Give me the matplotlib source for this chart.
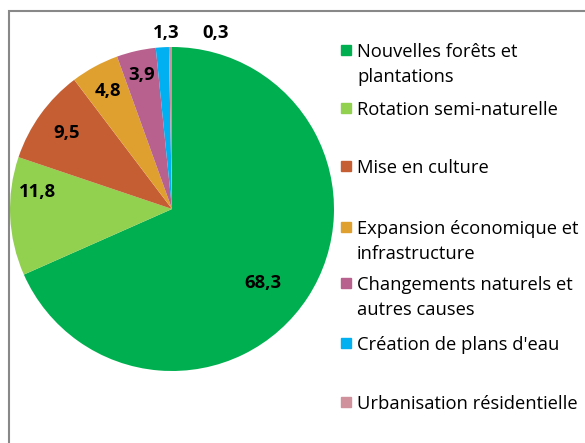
import matplotlib
matplotlib.use("Agg")
import numpy as np
import matplotlib.pyplot as plt
from matplotlib.patches import Rectangle

plt.rcParams["font.family"] = ["Open Sans", "DejaVu Sans"]

categories = [
    "Nouvelles forêts et\nplantations",
    "Rotation semi-naturelle",
    "Mise en culture",
    "Expansion économique et\ninfrastructure",
    "Changements naturels et\nautres causes",
    "Création de plans d'eau",
    "Urbanisation résidentielle",
]
values = [68.3, 11.8, 9.5, 4.8, 3.9, 1.3, 0.3]
colors = ["#00B050", "#92D050", "#C55F33", "#E0A030", "#B8608E", "#00B0F0", "#D0909C"]

# label placement (radius as fraction of pie radius, angle shift in degrees)
label_r = [0.72, 0.84, 0.80, 0.83, 0.85, 1.09, 1.12]
label_dtheta = [-6, -10, 0, 0, 0, -1.5, -14.5]

W, H = 585, 443
fig = plt.figure(figsize=(W / 100, H / 100), dpi=100)

# outer frame
fig.patches.append(Rectangle((8.5 / W, -0.1), 1.2, (H - 11.5) / H + 0.1,
                             transform=fig.transFigure, fill=False,
                             edgecolor="#888888", lw=1.5))

cx, cy, r = 172, 209, 162
ax = fig.add_axes([(cx - r) / W, (H - cy - r) / H, 2 * r / W, 2 * r / H])
wedges, _ = ax.pie(values, colors=colors, startangle=90, counterclock=False,
                   wedgeprops={"linewidth": 0})
ax.set_xlim(-1, 1)
ax.set_ylim(-1, 1)
ax.set_aspect("equal")
ax.axis("off")

for w, v, lr, dt in zip(wedges, values, label_r, label_dtheta):
    ang = np.deg2rad((w.theta1 + w.theta2) / 2 + dt)
    ax.text(lr * np.cos(ang), lr * np.sin(ang), f"{v:.1f}".replace(".", ","),
            ha="center", va="center", fontsize=13.3, fontweight="bold",
            clip_on=False)

# legend
first_line_y = [50, 108, 166, 227, 283, 343, 402]
line_gap = 25
for lab, col, y in zip(categories, colors, first_line_y):
    fig.patches.append(Rectangle((341 / W, 1 - (y + 5) / H), 10 / W, 10 / H,
                                 transform=fig.transFigure, color=col))
    for k, line in enumerate(lab.split("\n")):
        fig.text(357 / W, 1 - (y + k * line_gap) / H, line, ha="left",
                 va="center_baseline", fontsize=13.2)

fig.savefig("out.png", dpi=100)
